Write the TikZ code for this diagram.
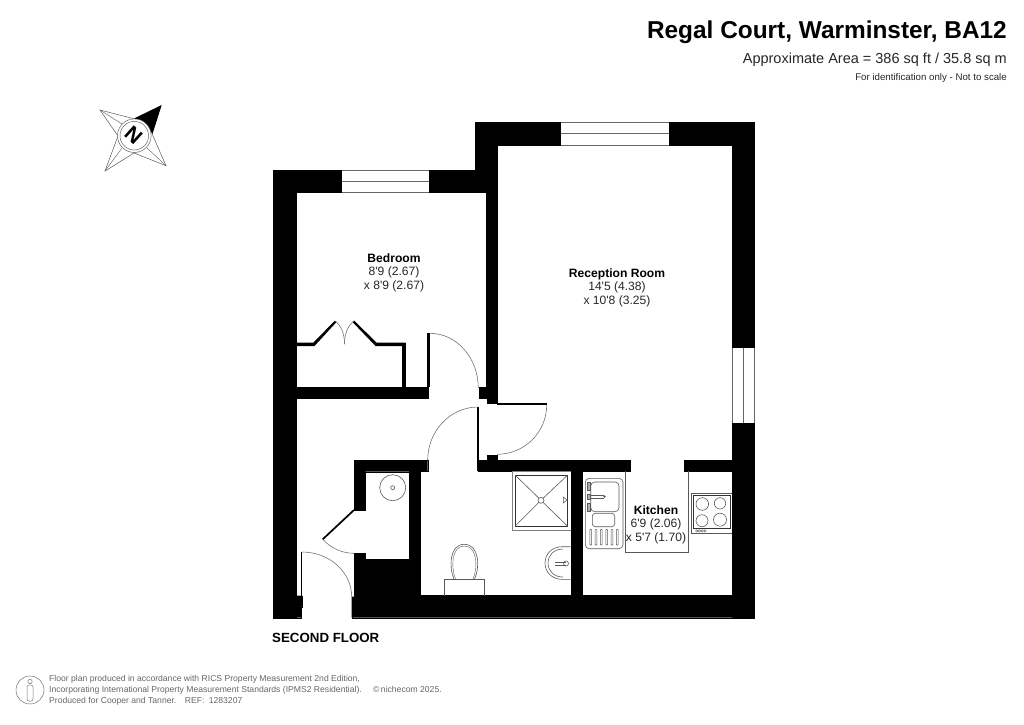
\documentclass[tikz,border=0pt]{standalone}
\usepackage{fontspec}
\newfontfamily\libs{Liberation Sans}
\tikzset{
  wall/.style={fill=black,draw=black,line width=0.3pt},
  thin wall/.style={fill=black,draw=none},
  win/.style={draw=black!60,fill=white,line width=0.8pt},
  swing/.style={draw=black!55,line width=0.6pt},
  fix/.style={draw=black!65,line width=0.6pt},
  fixk/.style={draw=black!80,line width=0.7pt},
  lab/.style={font=\libs\fontsize{12.1}{14}\selectfont,text=black!85,inner sep=0pt,anchor=base},
  labb/.style={font=\libs\bfseries\fontsize{12.1}{14}\selectfont,text=black,inner sep=0pt,anchor=base},
  foot/.style={font=\libs\fontsize{8.6}{10}\selectfont,text=black!60,inner sep=0pt,anchor=base west},
}
\begin{document}
\begin{tikzpicture}[x=1pt,y=-1pt]
\path[use as bounding box] (0,0) rectangle (1024,724);
% header
\node[inner sep=0pt,anchor=base east,font=\libs\bfseries\fontsize{24.4}{28}\selectfont] (title) at (1007,38) {Regal Court, Warminster, BA12};
\node[inner sep=0pt,anchor=base east,font=\libs\fontsize{14.5}{16}\selectfont,text=black!85] (area) at (1007,63) {Approximate Area = 386 sq ft / 35.8 sq m};
\node[inner sep=0pt,anchor=base east,font=\libs\fontsize{9.7}{11}\selectfont,text=black!85] (note) at (1007,80) {For identification only - Not to scale};
% compass
\draw[fix,line width=0.5pt,line join=miter] (135,119) -- (100,110) -- (118,136) -- (105,171) -- (134,153) -- (166,165.7) -- (151.7,133);
\draw[fix,line width=0.4pt] (100,110) -- (122,124) (105,171) -- (122,148) (166,165.7) -- (147,148);
\fill[black] (134,118.5) -- (161.7,105) -- (152.5,134) -- (146,124) -- cycle;
\draw[fill=white,draw=black!60,line width=0.5pt] (134.3,135.7) circle (16.8);
\draw[draw=black!60,line width=0.5pt] (134.3,135.7) circle (14.3);
\node[inner sep=0pt,rotate=-42,font=\libs\bfseries\fontsize{21}{24}\selectfont] (north) at (133.5,135.5) {N};
% windows
\draw[win] (341,170) rectangle (429,192.3);
\draw[win] (341,181.2) -- (429,181.2);
\draw[win] (560,122.3) rectangle (669.3,145);
\draw[win] (560,133.6) -- (669.3,133.6);
\draw[win] (732.3,346.7) rectangle (754,423.3);
\draw[win] (743.3,346.7) -- (743.3,423.3);
% walls
\path[wall] (273,170) rectangle (295.7,617.7);
\path[wall] (273,170) rectangle (341,192.3);
\path[wall] (429,170) rectangle (497.3,192.3);
\path[wall] (475,122.3) rectangle (497.3,192.3);
\path[wall] (475,122.3) rectangle (560,145);
\path[wall] (669.3,122.3) rectangle (754,145);
\path[wall] (732.3,122.3) rectangle (754,346.7);
\path[wall] (732.3,423.3) rectangle (754,617.7);
\path[wall] (486,170) rectangle (497.3,398.3);
\path[wall] (486.7,398) rectangle (497.3,403.3);
\path[wall] (479,386.7) rectangle (487,398.3);
\path[wall] (295.7,386.7) rectangle (427.7,398.3);
\path[wall] (478.3,460) rectangle (630,471);
\path[wall] (684.3,460) rectangle (754,471);
\path[wall] (486.7,455) rectangle (497.3,460.5);
\path[wall] (570.7,471) rectangle (582.3,596);
\path[wall] (351.7,617.7) -- (351.7,596.7) -- (354,596.7) -- (354,553.3) -- (365.3,553.3) -- (365.3,559.3) -- (409,559.3) -- (409,471.7) -- (365.3,471.7) -- (365.3,510) -- (354,510) -- (354,460) -- (427.7,460) -- (427.7,471) -- (420.3,471) -- (420.3,595.5) -- (754,595.5) -- (754,617.7) -- cycle;
\path[wall] (295,595.7) -- (302.3,595.7) -- (302.3,606.7) -- (301,606.7) -- (301,617.7) -- (295,617.7) -- cycle;
% thin door jambs and cupboard
\path[thin wall] (300.7,551.7) rectangle (302.3,596);
\path[thin wall] (427,333.3) rectangle (430,387);
\path[thin wall] (401.7,343.3) rectangle (405.7,387);
\path[thin wall] (295.7,342.7) -- (313.3,342.7) -- (335,320.5) -- (336.5,322) -- (314.5,346) -- (295.7,346) -- cycle;
\path[thin wall] (354,320.5) -- (376.7,342.7) -- (405.7,342.7) -- (405.7,346) -- (375.5,346) -- (352.5,322) -- cycle;
\path[thin wall] (497,403.3) rectangle (546.7,405.3);
\path[thin wall] (476.7,406.7) rectangle (479.3,471);
\draw[black,line width=1.7pt] (354,510) -- (322.7,539.3);
% door swings
\draw[swing] (430,333.3) .. controls (456.7,333.3) and (478.3,358) .. (478.3,388);
\draw[swing] (546.7,405) .. controls (546.7,432.2) and (524.4,454.3) .. (497.3,454.3);
\draw[swing] (478,407) .. controls (450.3,407) and (427.7,431) .. (427.7,460);
\draw[swing] (302,552) .. controls (329.5,552) and (351.7,572) .. (351.7,597);
\draw[swing] (322.7,539.3) .. controls (330.8,548) and (342,553.3) .. (354,553.3);
\draw[swing] (335,321) .. controls (342,326) and (344.5,335) .. (344.5,344);
\draw[swing] (354,321) .. controls (347,326) and (344.5,335) .. (344.5,344);
% cupboard cylinder
\draw[fix] (392.7,487.7) circle (13);
\draw[fix] (392.7,487.7) circle (2);
% shower
\draw[fix,draw=black!50,line width=0.8pt] (570.7,471) -- (512,471) -- (512,530) -- (570.7,530);
\draw[fixk,line width=0.8pt] (515,475) rectangle (567.7,526.3);
\draw[fix] (515,475) -- (539,498.3) (567.7,475) -- (543,498.3) (515,526.3) -- (539,502.3) (567.7,526.3) -- (543,502.3);
\draw[fix] (541,500.3) circle (3);
\draw[fix,line width=0.5pt] (563.3,497) -- (567,500) -- (563.3,503) -- cycle;
% basin
\draw[fix] (570.7,546.7) -- (562,546.7) .. controls (552,546.7) and (545,554) .. (545,563) .. controls (545,572) and (552,579.3) .. (562,579.3) -- (570.7,579.3);
\draw[fix] (563,549) .. controls (554,549) and (548,555) .. (548,563) .. controls (548,571) and (554,577) .. (563,577);
\draw[fix] (555,562) -- (566,562) (555,565) -- (566,565);
\draw[fix] (566,563.5) circle (2.5);
% sink
\draw[fix,rounded corners=4pt] (585.3,478.3) rectangle (623,548.7);
\draw[fix,rounded corners=4pt] (590.7,482) rectangle (619,511.7);
\draw[fix,rounded corners=3pt] (592.3,513.3) rectangle (614.7,526.7);
\foreach \xx in {590.7,596,601.3,606.7,612,617.3}{\draw[fix,rounded corners=0.7pt,line width=0.5pt] (\xx-0.9,529.3) rectangle (\xx+0.9,545);}
\draw[fix] (589,495.5) -- (604,495.5) (589,497.8) -- (604,497.8);
\fill[black!70] (604.5,496.6) circle (1.2);
\draw[fix,fill=black!30] (587,482.5) rectangle (590,490) (587,494.5) rectangle (590,499) (587,503) rectangle (590,511);
% counter
\draw[fix,line width=0.7pt] (625.7,471) -- (625.7,552) -- (688.7,552) -- (688.7,471);
% hob
\draw[fix] (732.3,493.3) -- (691.3,493.3) -- (691.3,533.3) -- (732.3,533.3);
\draw[fixk] (693.3,495) rectangle (730.7,528.3);
\draw[fix] (702.3,504) circle (6.3);
\draw[fix] (720,503.3) circle (5.7);
\draw[fix] (702,520.7) circle (6);
\draw[fix] (720,519.7) circle (6.5);
\foreach \xx in {696.7,699.5,702.3,705}{\draw[fix,line width=0.4pt] (\xx,530.9) circle (1.2);}
% toilet
\draw[fix] (444.3,595.5) -- (444.3,579.3) -- (484.7,579.3) -- (484.7,595.5);
\draw[fix] (454,579) .. controls (449,568) and (449,544.3) .. (464.3,544.3) .. controls (479.6,544.3) and (480,568) .. (474.5,579);
\draw[fix,line width=0.4pt] (455.5,579) .. controls (451,568) and (451,546) .. (464.3,546) .. controls (477.6,546) and (478,568) .. (473,579);
% labels
\node[labb] (bedname) at (394,262) {Bedroom};
\node[lab] (beda) at (394,275) {8'9 (2.67)};
\node[lab] (bedb) at (394,289) {x 8'9 (2.67)};
\node[labb] (recname) at (617,277) {Reception Room};
\node[lab] (reca) at (617,290) {14'5 (4.38)};
\node[lab] (recb) at (617,304) {x 10'8 (3.25)};
\node[labb] (kitname) at (656,514) {Kitchen};
\node[lab] (kita) at (656,527) {6'9 (2.06)};
\node[lab] (kitb) at (656,541) {x 5'7 (1.70)};
\node[inner sep=0pt,anchor=base west,font=\libs\bfseries\fontsize{13.3}{15}\selectfont] (floor) at (272,642) {SECOND FLOOR};
% footer
\draw[black!55,line width=0.5pt] (30,690) circle (14);
\draw[black!55,line width=0.5pt] (30,681.5) circle (2.2);
\draw[black!55,line width=0.5pt,rounded corners=2pt] (27,685) rectangle (33,701);
\node[foot] (fa) at (49,681) {Floor plan produced in accordance with RICS Property Measurement 2nd Edition,};
\node[foot] (fb) at (49,692.5) {Incorporating International Property Measurement Standards (IPMS2 Residential).};
\node[foot] (fc) at (373,692.5) {\textcopyright\,nichecom 2025.};
\node[foot] (fd) at (49,703) {Produced for Cooper and Tanner.\hspace{1em}REF:\hspace{0.5em}1283207};
\end{tikzpicture}
\end{document}
